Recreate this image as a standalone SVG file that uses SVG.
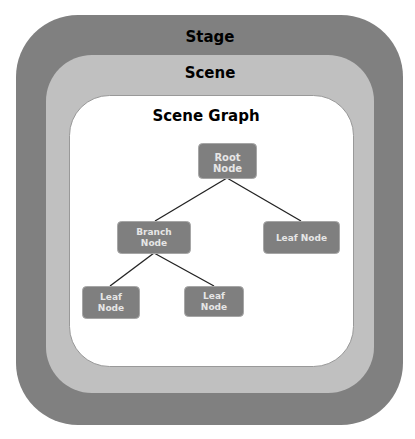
<svg xmlns="http://www.w3.org/2000/svg" width="415" height="439" viewBox="0 0 415 439">
<style>
.title{font-family:"DejaVu Sans",Verdana,sans-serif;font-weight:bold;font-size:15px;fill:#000;text-anchor:middle}
.node rect{fill:#7f7f7f;stroke:#a6a6a6;stroke-width:1}
.node text{font-family:"DejaVu Sans",Verdana,sans-serif;font-weight:bold;font-size:9px;fill:#e6e6e6;text-anchor:middle}
.edge{stroke:#222;stroke-width:1.3;fill:none}
</style>
<rect width="415" height="439" fill="#fff"/>
<g id="stage">
<rect x="16" y="15" width="387" height="410" rx="62" fill="#808080"/>
<text class="title" x="210" y="42">Stage</text>
</g>
<g id="scene">
<rect x="46" y="55" width="328" height="338" rx="46" fill="#c0c0c0"/>
<text class="title" x="210" y="78">Scene</text>
</g>
<g id="scene-graph">
<rect x="69.5" y="95.5" width="284" height="271" rx="40" fill="#fff" stroke="#999"/>
<text class="title" x="206" y="121">Scene Graph</text>
</g>
<g id="connectors">
<line class="edge" x1="227" y1="178" x2="155" y2="221"/>
<line class="edge" x1="227" y1="178" x2="301" y2="221"/>
<line class="edge" x1="154" y1="253" x2="110" y2="286"/>
<line class="edge" x1="154" y1="253" x2="214" y2="286"/>
</g>
<g id="root" class="node">
<rect x="198.5" y="143.5" width="58" height="35" rx="4"/>
<text x="227.5" y="160.5" style="font-size:10px">Root</text>
<text x="227.5" y="172" style="font-size:10px">Node</text>
</g>
<g id="branch" class="node">
<rect x="117.5" y="221.5" width="73" height="32" rx="4"/>
<text x="154" y="235">Branch</text>
<text x="154" y="246">Node</text>
</g>
<g id="leaf-right" class="node">
<rect x="263.5" y="221.5" width="76" height="32" rx="4"/>
<text x="301.5" y="241">Leaf Node</text>
</g>
<g id="leaf-1" class="node">
<rect x="82.5" y="286.5" width="57" height="32" rx="4"/>
<text x="111" y="300">Leaf</text>
<text x="111" y="311">Node</text>
</g>
<g id="leaf-2" class="node">
<rect x="184.5" y="286.5" width="59" height="30" rx="4"/>
<text x="214" y="299">Leaf</text>
<text x="214" y="310">Node</text>
</g>
</svg>
